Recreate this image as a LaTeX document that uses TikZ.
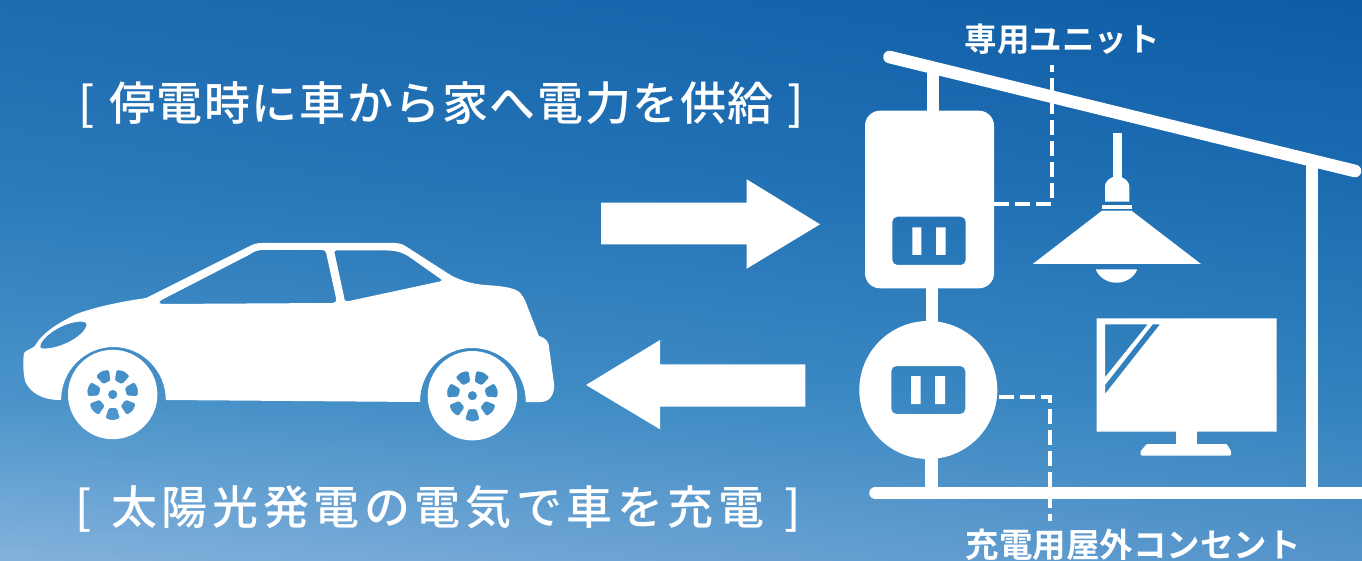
\documentclass[tikz,border=0pt]{standalone}
\usepackage{fontspec}
\usetikzlibrary{shadings}
\newfontfamily\cjk[LetterSpace=3.5]{Noto Sans CJK JP Medium}
\newfontfamily\cjkw[LetterSpace=10]{Noto Sans CJK JP Medium}
\newfontfamily\cjkb{Noto Sans CJK JP Bold}
\definecolor{ink}{HTML}{FFFFFF}
\definecolor{skyA}{RGB}{30,108,176}
\definecolor{skyB}{RGB}{14,92,166}
\definecolor{skyC}{RGB}{44,122,186}
\definecolor{skyD}{RGB}{28,108,178}
\definecolor{skyE}{RGB}{74,148,202}
\definecolor{skyF}{RGB}{50,130,190}
\definecolor{skyG}{RGB}{132,178,220}
\definecolor{skyH}{RGB}{84,148,202}
\tikzset{
  solid white/.style={fill=ink,draw=none},
  beam/.style={draw=ink,line width=12.6pt},
  beamround/.style={beam,line cap=round},
  dashline/.style={draw=ink,line width=4pt,dash pattern=on 15pt off 6pt},
  headline/.style={text=ink,inner sep=0pt,anchor=center},
  partlabel/.style={text=ink,inner sep=0pt,anchor=center},
  band/.style={draw=none},
}
\begin{document}
\begin{tikzpicture}[x=1pt,y=-1pt]
\useasboundingbox (0,0) rectangle (1362,561);
% sky
\shade[band,upper left=skyA,upper right=skyB,lower left=skyC,lower right=skyD] (0,0) rectangle (1362,190);
\shade[band,upper left=skyC,upper right=skyD,lower left=skyE,lower right=skyF] (0,189) rectangle (1362,400);
\shade[band,upper left=skyE,upper right=skyF,lower left=skyG,lower right=skyH] (0,399) rectangle (1362,561);
% headings
\node[headline,font=\cjk\fontsize{46}{46}\selectfont] (top) at (441.5,105) {[\hspace{14pt}停電時に車から家へ電力を供給\hspace{14pt}]};
\node[headline,font=\cjkw\fontsize{46}{46}\selectfont] (bottom) at (438,509) {[\hspace{20pt}太陽光発電の電気で車を充電\hspace{20pt}]};
\node[partlabel,font=\cjkb\fontsize{32.5}{32.5}\selectfont] (unitlabel) at (1062,39) {専用ユニット};
\node[partlabel,font=\cjkb\fontsize{33.5}{33.5}\selectfont] (outletlabel) at (1133,544.5) {充電用屋外コンセント};
% car body, windows and lamp as holes
\begin{scope}[xscale=1.0909]
\fill[solid white,even odd rule]
  (55,400) .. controls (38,400) and (27,392) .. (23,381)
  .. controls (21,372) and (21,360) .. (22,353)
  .. controls (24,350) and (29,349) .. (32,346)
  .. controls (38,334) and (50,325) .. (70,314)
  .. controls (90,306) and (115,301) .. (134,298)
  -- (229,246) .. controls (232,244) and (236,243) .. (240,243)
  -- (362,243) .. controls (367,243) and (370,245) .. (373,247)
  -- (410,273) .. controls (420,280) and (432,284) .. (445,285)
  .. controls (458,286) and (470,287) .. (476,292)
  .. controls (481,298) and (482,302) .. (484,308)
  -- (494,336) .. controls (498,337) and (502,340) .. (503,345)
  -- (508,385) .. controls (508,395) and (504,402) .. (495,402)
  -- (482,402)
  .. controls (482,372) and (460,348) .. (433,348)
  .. controls (406,348) and (385,372) .. (385,402)
  -- (152,400)
  .. controls (152,371) and (130.5,347) .. (104,347)
  .. controls (77.5,347) and (56,371) .. (56,400) -- cycle
  (148,304) .. controls (146,304) and (145,302) .. (148,300)
  -- (228,255) .. controls (232,252) and (236,250) .. (240,250)
  -- (295,250) .. controls (297,250) and (299,251) .. (299,253)
  -- (308,298) .. controls (309,301) and (307,303) .. (304,303) -- cycle
  (306.5,252) .. controls (306.5,251) and (307,250.5) .. (308,250.5)
  -- (355,250.5) .. controls (362,250.5) and (368,252) .. (374,256)
  -- (404,279) .. controls (406,280) and (405,281) .. (403,281.5)
  -- (320,301) .. controls (318,301.5) and (316,301.5) .. (316,300) -- cycle
  (37,347.5) .. controls (36,344) and (41,336) .. (52,329)
  .. controls (63,322) and (76,320) .. (79,323)
  .. controls (81,327) and (74,336) .. (63,342)
  .. controls (52,348) and (40,350) .. (37,347.5) -- cycle;
\end{scope}
% wheels
\foreach \wx/\wy in {112.7/394.5,472.4/395.7}{
  \begin{scope}[shift={(\wx,\wy)},rounded corners=1.5pt]
    \fill[solid white,even odd rule] (0,0) circle [radius=44.7pt]
      (0,0) circle [radius=4.7pt]
      \foreach \a in {90,38.57,-12.86,-64.29,-115.71,-167.14,-218.57}{
        (\a-17:14) -- (\a+17:14) -- (\a+17:25) -- (\a:26) -- (\a-17:25) -- cycle
      };
  \end{scope}
}
% arrows
\fill[solid white] (601,202.7) -- (746.7,202.7) -- (746.7,179.3) -- (820,224.3) -- (746.7,268.7) -- (746.7,244.3) -- (601,244.3) -- cycle;
\fill[solid white] (805.3,364.3) -- (660,364.3) -- (660,340) -- (586,385) -- (660,429.3) -- (660,406.7) -- (805.3,406.7) -- cycle;
% house structure
\draw[beam] (1312,165) -- (1312,490);
\draw[beam] (933,70) -- (933,115);
\draw[beam] (932,285) -- (932,325);
\draw[beam] (931.5,455) -- (931.5,490);
\draw[beamround] (889.5,57) -- (1355,171);
\draw[beamround] (875.5,493) -- (1380,493);
% unit with recess
\fill[solid white,even odd rule,rounded corners=15pt] (865,110.7) rectangle (994,288.3)
  [rounded corners=5pt] (892.3,216.7) rectangle (965.7,265);
\fill[solid white] (912.3,227.3) rectangle (921.3,255) (936,227.3) rectangle (945.7,255);
% outdoor outlet with recess
\fill[solid white,even odd rule] (928.3,390) circle [radius=69pt]
  [rounded corners=5pt] (891.3,366) rectangle (965.3,414);
\fill[solid white] (911,376) rectangle (920.7,404) (935,376) rectangle (945,404);
% dashed connectors
\coordinate (ucorner) at (1051.5,204);
\coordinate (uend) at (994,204);
\coordinate (utop) at (1051.5,65);
\coordinate (ocorner) at (1050,397);
\coordinate (ostart) at (999,397);
\coordinate (oend) at (1050,521);
\draw[dashline] (uend) -- (ucorner) -- (utop);
\draw[dashline] (ostart) -- (ocorner) -- (oend);
% lamp
\fill[solid white] (1112.7,132.7) rectangle (1121.7,182);
\fill[solid white] (1105,201.7) -- (1105,187) .. controls (1105,180) and (1111,178) .. (1113,177) -- (1121,177) .. controls (1123,178) and (1129.3,180) .. (1129.3,187) -- (1129.3,201.7) -- cycle;
\fill[solid white] (1101.7,205) rectangle (1131.7,209.3);
\fill[solid white] (1102,210.7) -- (1131.5,210.7) -- (1201,264) -- (1032.7,264) -- cycle;
\fill[solid white] (1095.7,269.3) .. controls (1099,278) and (1108,282.7) .. (1116.5,282.7) .. controls (1125,282.7) and (1134,278) .. (1137.3,269.3) -- cycle;
% television
\fill[solid white,even odd rule] (1096.7,318.3) rectangle (1276.7,431.7)
  (1105,324.3) -- (1147.7,324.3) -- (1105,377.3) -- cycle
  (1152.7,324.3) -- (1160,324.3) -- (1105,394) -- (1105,385) -- cycle;
\fill[solid white] (1176,431) rectangle (1196.7,445);
\fill[solid white,rounded corners=1pt] (1140.7,455.7) -- (1140.7,451) -- (1146.7,444) -- (1226.7,444) -- (1231,451) -- (1231,455.7) -- cycle;
\end{tikzpicture}
\end{document}
